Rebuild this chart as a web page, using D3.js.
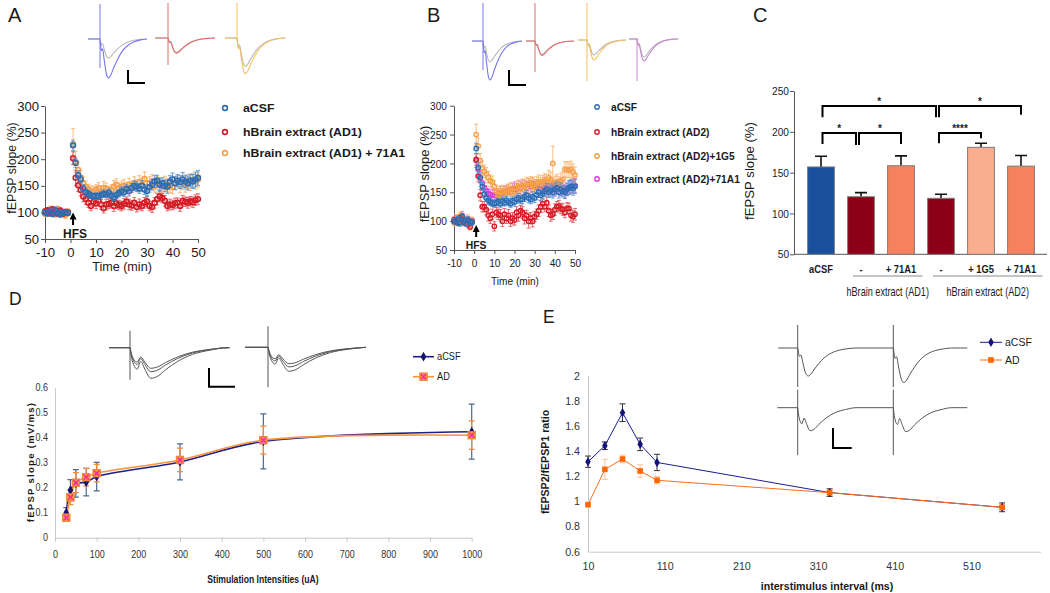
<!DOCTYPE html>
<html><head><meta charset="utf-8">
<script src="https://cdn.jsdelivr.net/npm/d3@7"></script>
<style>body{margin:0;background:#fff}svg{display:block}</style>
</head><body>
<svg id="c" width="1050" height="593"></svg>
<script>
// ================= DATA =================
const minutes = [-10,-9,-8,-7,-6,-5,-4,-3,-2,-1,1,2,3,4,5,6,7,8,9,10,11,12,13,14,15,16,17,18,19,20,21,22,23,24,25,26,27,28,29,30,31,32,33,34,35,36,37,38,39,40,41,42,43,44,45,46,47,48,49,50];
const tsYTicks = [50,100,150,200,250,300];
const tsXTicks = [-10,0,10,20,30,40,50];

// Panel A
const aNames = ['aCSF','hBrain extract (AD1)','hBrain extract (AD1) + 71A1'];
const aACSF = [100,98,102,97,104,99,96,101,100,99, 226,193,170,162,145,138,135,132,130,131, 130,133,135,134,137,132,128,133,136,140, 138,144,140,146,150,148,145,150,143,140, 148,152,158,160,152,155,150,148,158,162, 155,160,157,162,158,155,160,158,162,165];
const aACSFerr = [4,5,4,5,6,4,5,4,3,4, 10,9,8,7,7,6,6,6,5,6, 6,6,7,6,7,6,6,7,7,8, 8,8,9,8,9,9,9,10,9,10, 10,10,11,10,11,10,11,12,11,12, 12,11,12,13,12,13,12,13,14,14];
const aAD1 = [102,104,99,106,100,98,103,97,101,100, 202,165,151,142,130,125,118,112,120,117, 122,115,108,115,116,118,112,117,114,112, 116,120,115,113,118,110,115,112,118,121, 112,110,118,125,130,127,122,112,115,114, 117,118,112,122,120,118,121,119,123,125];
const aAD1err = [5,4,6,5,4,5,6,4,5,4, 12,14,12,11,10,10,9,9,9,10, 10,9,9,10,9,9,10,10,9,9, 10,9,10,9,10,9,10,9,10,10, 9,10,10,11,10,9,10,9,10,9, 10,9,10,10,9,10,9,10,10,10];
const aAD1mab = [98,103,105,100,97,106,102,99,95,101, 228,195,180,165,155,148,143,140,138,142, 145,140,146,145,138,142,148,152,145,148, 150,146,152,148,155,150,157,152,163,148, 155,158,150,155,152,148,155,152,150,148, 155,158,150,156,152,158,155,160,158,162];
const aAD1maberr = [6,5,7,5,6,6,5,6,7,6, 30,20,15,14,12,11,10,10,11,10, 11,10,12,10,11,10,12,11,10,11, 12,11,12,11,12,11,12,12,13,12, 12,13,12,12,13,12,13,12,13,13, 13,12,13,13,14,13,14,13,14,14];

// Panel B
const bNames = ['aCSF','hBrain extract (AD2)','hBrain extract (AD2)+1G5','hBrain extract (AD2)+71A1'];
const bACSF = [100,98,103,97,108,100,96,102,99,98, 226,193,175,160,147,140,136,133,131,130, 132,134,130,135,132,136,133,130,135,133, 138,140,137,138,142,145,140,138,142,140, 146,150,145,148,152,155,150,153,150,155, 158,150,155,152,150,155,158,160,157,160];
const bACSFerr = [5,4,5,6,5,4,5,6,4,5, 9,8,8,7,7,6,6,6,6,6, 6,6,6,7,6,7,6,6,7,7, 7,8,7,8,8,8,8,8,9,8, 9,9,9,10,9,10,9,10,10,10, 10,10,11,10,11,11,12,11,12,12];
const bAD2 = [102,100,97,106,103,98,101,95,90,99, 207,178,145,125,125,120,110,105,112,91, 115,112,110,100,112,105,110,100,105,102, 115,110,118,115,105,110,100,105,100,108, 112,118,125,130,125,132,118,110,112,120, 125,126,122,120,115,122,122,110,108,112];
const bAD2err = [5,6,5,4,6,5,5,6,5,5, 10,10,10,9,9,9,10,9,9,8, 9,9,10,9,10,9,10,9,10,9, 10,10,9,10,10,9,12,10,10,9, 9,10,10,10,9,10,10,10,9,10, 9,10,9,10,9,10,9,10,10,10];
const bAD2g5 = [98,104,100,108,102,97,100,104,96,101, 250,230,205,192,186,182,176,170,168,160, 152,146,150,152,148,150,154,156,150,152, 158,160,156,162,160,165,162,166,163,160, 165,168,164,166,170,168,175,172,200,166, 168,165,170,172,190,189,188,190,185,180];
const bAD2g5err = [6,7,6,7,6,5,6,7,6,6, 18,14,12,12,11,11,10,10,10,10, 10,10,11,10,10,11,10,11,11,10, 11,11,12,11,12,11,12,11,12,12, 12,12,12,13,12,13,13,13,30,12, 13,12,13,13,13,14,13,14,14,14];
const bAD2mab = [100,105,98,102,110,97,103,100,98,101, 205,190,176,166,158,152,148,146,145,146, 144,148,150,147,150,152,155,150,155,158, 155,160,158,162,160,158,164,160,165,162, 160,158,162,160,165,160,158,162,158,155, 158,160,155,158,152,155,158,160,162,162];
const bAD2maberr = [5,6,5,6,7,5,6,5,6,5, 12,11,10,10,9,9,9,9,9,9, 9,9,10,9,10,10,9,10,10,10, 10,10,11,10,10,11,10,11,11,10, 11,11,10,11,11,12,11,11,12,12, 11,12,11,12,12,11,12,12,12,12];

// Panel C
const cLabels = ['aCSF','-','+ 71A1','-','+ 1G5','+ 71A1'];
const cValues = [157,120.5,158.5,118.6,181,158];
const cErrors = [13,5,12,5,5,13];
const cYTicks = [50,100,150,200,250];
const cGroups = [{label:'hBrain extract (AD1)',from:1,to:2},{label:'hBrain extract (AD2)',from:3,to:5}];
const cSig = [
  {a:0,b:3,top:231.5,legA:218,legB:218,label:'*'},
  {a:3,b:5,top:231.5,legA:218,legB:221,label:'*'},
  {a:0,b:1,top:198.5,legA:185,legB:184,label:'*'},
  {a:1,b:2,top:198.5,legA:184,legB:185,label:'*'},
  {a:3,b:4,top:198.5,legA:186,legB:192,label:'****'}
];

// Panel D
const dNames = ['aCSF','AD'];
const dStim = [27,37,50,75,100,300,500,1000];
const dACSF = [0.10,0.19,0.217,0.222,0.244,0.303,0.385,0.424];
const dACSFerr = [0.02,0.042,0.055,0.055,0.057,0.072,0.11,0.11];
const dAD = [0.08,0.162,0.22,0.242,0.258,0.311,0.39,0.41];
const dADerr = [0.012,0.03,0.04,0.035,0.035,0.047,0.056,0.057];
const dYTicks = [0,0.1,0.2,0.3,0.4,0.5,0.6];
const dXTicks = [0,100,200,300,400,500,600,700,800,900,1000];

// Panel E
const eNames = ['aCSF','AD'];
const eISI = [10,32,55,78,100,325,550];
const eACSF = [1.316,1.443,1.706,1.454,1.31,1.07,0.953];
const eACSFerr = [0.045,0.03,0.07,0.05,0.065,0.03,0.035];
const eAD = [0.974,1.255,1.337,1.242,1.168,1.07,0.953];
const eADerr = [0.0,0.08,0.03,0.05,0.03,0.02,0.02];
const eYTicks = [0.6,0.8,1,1.2,1.4,1.6,1.8,2];
const eXTicks = [10,110,210,310,410,510];

// Example traces (time in ms relative to stimulus, amplitude in mV)
const tplA = {t:[0.3,1,1.8,3,4.5,6,7.5,9.5,12,15,19,24,29,33], v:[-0.1,-0.3,-0.25,-0.55,-0.9,-1,-0.93,-0.75,-0.55,-0.35,-0.18,-0.07,-0.02,0]};
const tplB = {t:[0.3,1.2,2.4,3.6,5,7,9,12,16,21,27,33], v:[-0.2,-0.55,-0.7,-0.45,-0.7,-1,-0.95,-0.72,-0.45,-0.22,-0.08,0]};

// ================= DRAW =================
const FONT = '"Liberation Sans", Arial, Helvetica, sans-serif';
const svg = d3.select('#c');
const plain = d => String(d);

function txt(parent, x, y, s, o = {}) {
  let tr = `translate(${x},${y})`;
  if (o.rot) tr += ` rotate(${o.rot})`;
  if (o.sx && o.sx !== 1) tr += ` scale(${o.sx},1)`;
  const t = parent.append('text').attr('transform', tr).text(s)
    .attr('font-family', FONT).attr('font-size', o.size || 12)
    .attr('text-anchor', o.anchor || 'start')
    .attr('font-weight', o.bold ? 'bold' : 'normal')
    .attr('fill', o.fill || '#1a1a1a');
  if (o.mid) t.attr('dominant-baseline', 'central');
  if (o.ls) t.attr('letter-spacing', o.ls);
  return t;
}
function styleAxis(g, o) {
  g.attr('font-family', FONT).attr('font-size', o.size);
  g.select('.domain').attr('stroke', o.color).attr('stroke-width', o.sw || 1);
  g.selectAll('.tick line').attr('stroke', o.color).attr('stroke-width', o.sw || 1);
  g.selectAll('.tick text').attr('fill', o.tcol || '#1a1a1a').attr('font-weight', o.bold ? 'bold' : null);
  if (o.sx && o.sx !== 1) g.selectAll('.tick text').each(function () {
    const t = d3.select(this); const x = +(t.attr('x') || 0);
    t.attr('x', x / o.sx).attr('transform', `scale(${o.sx},1)`);
  });
}
function errPath(cx, y1, y2, w) {
  return `M${cx},${y1}V${y2}M${cx - w},${y1}H${cx + w}M${cx - w},${y2}H${cx + w}`;
}
function drawTS(g, x, y, vals, errs, col, ecol, r, sw) {
  g.append('g').selectAll('path').data(vals).join('path')
    .attr('d', (v, i) => errPath(x(minutes[i]), y(v + errs[i]), y(v - errs[i]), 2))
    .attr('stroke', ecol).attr('stroke-width', 1).attr('fill', 'none').attr('opacity', 0.85);
  g.append('g').selectAll('circle').data(vals).join('circle')
    .attr('cx', (v, i) => x(minutes[i])).attr('cy', v => y(v)).attr('r', r)
    .attr('fill', 'none').attr('stroke', col).attr('stroke-width', sw);
}
function arrow(g, x, tail, tip) {
  g.append('line').attr('x1', x).attr('x2', x).attr('y1', tail).attr('y2', tip + 5).attr('stroke', '#000').attr('stroke-width', 2);
  g.append('path').attr('d', `M${x - 3.5},${tip + 7}L${x},${tip}L${x + 3.5},${tip + 7}Z`).attr('fill', '#000');
}
function scaleBar(g, x, y0, y1, x1) {
  g.append('path').attr('d', `M${x},${y0}V${y1}H${x1}`).attr('fill', 'none').attr('stroke', '#000').attr('stroke-width', 2);
}
function drawTrace(g, L, sweep) {
  const x = d3.scaleLinear().domain([0, 1]).range([L.sx, L.sx + L.ms]);
  const y = d3.scaleLinear().domain([0, 1]).range([L.by, L.by - L.mv]);
  const line = d3.line().x(d => x(d[0])).y(d => y(d[1])).curve(d3.curveMonotoneX);
  const tpl = sweep.tpl === 'B' ? tplB : tplA;
  g.append('line').attr('x1', x(0)).attr('x2', x(0)).attr('y1', y(sweep.up)).attr('y2', y(-sweep.down))
    .attr('stroke', sweep.spikeCol || sweep.lines[sweep.lines.length - 1][0]).attr('stroke-width', 1);
  sweep.lines.forEach(([col, dip]) => {
    const pts = [[-sweep.pre, 0], [0, 0]];
    tpl.t.forEach((t, i) => pts.push([t, tpl.v[i] * dip]));
    if (sweep.post > 33) pts.push([sweep.post, 0]);
    g.append('path').attr('d', line(pts)).attr('fill', 'none').attr('stroke', col).attr('stroke-width', sweep.w || 1.1);
  });
}

const GRAY = '#b8b8b8';
const tBlue = '#7676f0', tRed = '#e06c6c', tOrange = '#f5c160', tMag = '#c888cf';

// ---------- Panel A ----------
{
  const g = svg.append('g');
  txt(g, 8, 22, 'A', {size: 20});
  const x = d3.scaleLinear().domain([-10, 50]).range([45, 198]);
  const y = d3.scaleLinear().domain([50, 300]).range([239, 106]);
  const ay = g.append('g').attr('transform', `translate(${x.range()[0]},0)`)
    .call(d3.axisLeft(y).tickValues(tsYTicks).tickFormat(plain).tickSize(4).tickPadding(2).tickSizeOuter(0));
  styleAxis(ay, {size: 12.5, color: '#555', sx: 1.05});
  const ax = g.append('g').attr('transform', `translate(0,${y.range()[0]})`)
    .call(d3.axisBottom(x).tickValues(tsXTicks).tickFormat(plain).tickSize(4).tickPadding(5).tickSizeOuter(0));
  styleAxis(ax, {size: 12.5, color: '#555', sx: 1.05});
  txt(g, 12, 168, 'fEPSP slope (%)', {size: 12.3, rot: -90, anchor: 'middle', mid: true});
  txt(g, 122, 267, 'Time (min)', {size: 12, anchor: 'middle', mid: true, sx: 1.05});
  drawTS(g, x, y, aAD1mab, aAD1maberr, '#f6a04d', '#f8b26a', 2.4, 1.6);
  drawTS(g, x, y, aAD1, aAD1err, '#d41c25', '#e0525a', 2.4, 1.6);
  drawTS(g, x, y, aACSF, aACSFerr, '#2c6db3', '#4d8fd0', 2.4, 1.6);
  arrow(g, x(1), 225, 212.5);
  txt(g, 75, 234, 'HFS', {size: 12, bold: true, anchor: 'middle', mid: true});
  const cols = ['#2c6db3', '#d41c25', '#f6a04d'];
  aNames.forEach((n, i) => {
    const yy = [108, 132, 153][i];
    g.append('circle').attr('cx', 225).attr('cy', yy).attr('r', 2.4).attr('fill', 'none').attr('stroke', cols[i]).attr('stroke-width', 1.6);
    txt(g, 243, yy, n, {size: 11.5, bold: true, mid: true, sx: 1.07});
  });
  const L = (sx, by) => ({sx, by, ms: 1.42, mv: 20});
  drawTrace(g, L(100, 39), {pre: 8.5, post: 33, up: 1.75, down: 1.45, lines: [[GRAY, 0.95], [tBlue, 1.95]]});
  drawTrace(g, L(168, 38), {pre: 9, post: 33, up: 1.75, down: 1.35, lines: [[GRAY, 0.72], [tRed, 0.76]]});
  drawTrace(g, L(237, 38), {pre: 8.5, post: 34, up: 1.75, down: 0.15, lines: [[GRAY, 1.42], [tOrange, 1.78]]});
  scaleBar(g, 128, 70, 83, 145);
}

// ---------- Panel B ----------
{
  const g = svg.append('g');
  txt(g, 427, 22, 'B', {size: 20});
  const x = d3.scaleLinear().domain([-10, 50]).range([454, 575]);
  const y = d3.scaleLinear().domain([50, 300]).range([250, 105.7]);
  const ay = g.append('g').attr('transform', `translate(${x.range()[0]},0)`)
    .call(d3.axisLeft(y).tickValues(tsYTicks).tickFormat(plain).tickSize(4).tickPadding(3).tickSizeOuter(0));
  styleAxis(ay, {size: 11.5, color: '#555', sx: 0.88});
  const ax = g.append('g').attr('transform', `translate(0,${y.range()[0]})`)
    .call(d3.axisBottom(x).tickValues(tsXTicks).tickFormat(plain).tickSize(4).tickPadding(5).tickSizeOuter(0));
  styleAxis(ax, {size: 11.5, color: '#555', sx: 0.88});
  txt(g, 424, 174, 'fEPSP slope (%)', {size: 13, rot: -90, anchor: 'middle', mid: true, sx: 1.0});
  txt(g, 515, 281, 'Time (min)', {size: 11.5, anchor: 'middle', mid: true, sx: 0.88});
  drawTS(g, x, y, bAD2mab, bAD2maberr, '#d83bd8', '#e070e0', 2.2, 1.4);
  drawTS(g, x, y, bAD2g5, bAD2g5err, '#f6a04d', '#f8b26a', 2.2, 1.4);
  drawTS(g, x, y, bAD2, bAD2err, '#d41c25', '#e0525a', 2.2, 1.4);
  drawTS(g, x, y, bACSF, bACSFerr, '#2c6db3', '#4d8fd0', 2.2, 1.4);
  arrow(g, x(1), 237, 225);
  txt(g, 476, 245, 'HFS', {size: 11.5, bold: true, anchor: 'middle', mid: true, sx: 0.9});
  const cols = ['#2c6db3', '#d41c25', '#f6a04d', '#d83bd8'];
  bNames.forEach((n, i) => {
    const yy = [107, 132, 156, 179][i];
    g.append('circle').attr('cx', 597).attr('cy', yy).attr('r', 2.2).attr('fill', 'none').attr('stroke', cols[i]).attr('stroke-width', 1.4);
    txt(g, 611, yy, n, {size: 10.2, bold: true, mid: true});
  });
  const L = (sx, by) => ({sx, by, ms: 1.18, mv: 20});
  drawTrace(g, L(483, 41), {pre: 9.3, post: 33, up: 1.9, down: 1.45, lines: [[GRAY, 1.05], [tBlue, 1.95]]});
  drawTrace(g, L(535, 41), {pre: 7.6, post: 33, up: 1.9, down: 1.55, lines: [[GRAY, 0.68], [tRed, 0.72]]});
  drawTrace(g, L(587, 40), {pre: 7.6, post: 32, up: 1.85, down: 2.05, lines: [[GRAY, 0.75], [tOrange, 1.0]]});
  drawTrace(g, L(637, 39), {pre: 6.8, post: 35, up: 0.05, down: 2.1, lines: [[GRAY, 0.9], [tMag, 1.1]]});
  scaleBar(g, 509, 70, 85, 526);
}

// ---------- Panel C ----------
{
  const g = svg.append('g');
  txt(g, 753, 22, 'C', {size: 20});
  const x = d3.scaleBand().domain(d3.range(cLabels.length)).range([801, 1041]).paddingInner(0.33).paddingOuter(0.165);
  const y = d3.scaleLinear().domain([50, 250]).range([254.3, 91]);
  const bw = x.bandwidth();
  const cx = i => x(i) + bw / 2;
  const colors = ['#1a4f9b', '#8c0016', '#f5815f', '#8c0016', '#f9ae8f', '#f5815f'];
  const ay = g.append('g').attr('transform', 'translate(794,0)')
    .call(d3.axisLeft(y).tickValues(cYTicks).tickFormat(plain).tickSize(4).tickPadding(1).tickSizeOuter(0));
  styleAxis(ay, {size: 11.5, color: '#555', sx: 0.88});
  g.append('line').attr('x1', 794).attr('x2', 1047).attr('y1', y(50)).attr('y2', y(50)).attr('stroke', '#555');
  txt(g, 749, 171, 'fEPSP slope (%)', {size: 13.2, rot: -90, anchor: 'middle', mid: true});
  g.append('g').selectAll('path').data(cValues).join('path')
    .attr('d', (v, i) => `M${cx(i)},${y(v)}V${y(v + cErrors[i])}M${cx(i) - 6},${y(v + cErrors[i])}H${cx(i) + 6}`)
    .attr('stroke', '#111').attr('stroke-width', 1.6).attr('fill', 'none');
  g.append('g').selectAll('rect').data(cValues).join('rect')
    .attr('x', (v, i) => x(i)).attr('width', bw).attr('y', v => y(v)).attr('height', v => y(50) - y(v))
    .attr('fill', (v, i) => colors[i]).attr('stroke', '#7d7d7d').attr('stroke-width', 1);
  cLabels.forEach((l, i) => txt(g, cx(i), 269, l, {size: 11, bold: true, anchor: 'middle', mid: true, sx: 0.85}));
  cGroups.forEach(gr => {
    const x0 = x(gr.from) + 0.2 * bw, x1 = x(gr.to) + bw * 1.3;
    g.append('line').attr('x1', x0).attr('x2', x1).attr('y1', 276).attr('y2', 276).attr('stroke', '#8a8a8a').attr('stroke-width', 1);
    txt(g, (x0 + x1) / 2, 291, gr.label, {size: 12, anchor: 'middle', mid: true, sx: 0.76});
  });
  cSig.forEach(s => {
    const shared = cSig.some(o => o !== s && o.a === s.b && o.top === s.top);
    const xl = cx(s.a) + (s.a === 0 ? 1.5 : -2);
    const xr = cx(s.b) - (shared ? 5 : 0);
    g.append('path').attr('d', `M${xl},${y(s.legA)}V${y(s.top)}H${xr}V${y(s.legB)}`)
      .attr('fill', 'none').attr('stroke', '#000').attr('stroke-width', 2);
    txt(g, (xl + xr) / 2, y(s.top) - 4.5, s.label, {size: 10, bold: true, anchor: 'middle', mid: true});
  });
}

// ---------- Panel D ----------
{
  const g = svg.append('g');
  txt(g, 9, 305, 'D', {size: 17.5});
  const x = d3.scaleLinear().domain([0, 1000]).range([55, 471.7]);
  const y = d3.scaleLinear().domain([0, 0.6]).range([537.7, 387.7]);
  const ay = g.append('g').attr('transform', 'translate(55,0)')
    .call(d3.axisLeft(y).tickValues(dYTicks).tickSize(0).tickPadding(7).tickFormat(d => d === 0 ? '0' : d.toFixed(1)));
  styleAxis(ay, {size: 10, color: '#c8c8c8', tcol: '#333', sx: 0.9});
  const ax = g.append('g').attr('transform', `translate(0,${y(0)})`)
    .call(d3.axisBottom(x).tickValues(dXTicks).tickFormat(plain).tickSize(4).tickPadding(9).tickSizeOuter(0));
  styleAxis(ax, {size: 10, color: '#c8c8c8', tcol: '#333', sx: 0.9});
  txt(g, 263, 579, 'Stimulation Intensities (uA)', {size: 10.5, bold: true, anchor: 'middle', mid: true, sx: 0.82});
  txt(g, 30, 462, 'fEPSP slope (mV/ms)', {size: 9.5, bold: true, rot: -90, anchor: 'middle', mid: true, ls: 1.3});
  const line = d3.line().x((d, i) => x(dStim[i])).y(d => y(d)).curve(d3.curveCatmullRom.alpha(0.5));
  g.append('g').selectAll('path').data(dACSF).join('path')
    .attr('d', (v, i) => errPath(x(dStim[i]), y(v + dACSFerr[i]), y(v - dACSFerr[i]), 3))
    .attr('stroke', '#4b6a8f').attr('stroke-width', 1.2).attr('fill', 'none');
  g.append('path').attr('d', line(dACSF)).attr('fill', 'none').attr('stroke', '#1f1f8a').attr('stroke-width', 1.6);
  g.append('g').selectAll('path').data(dAD).join('path')
    .attr('d', (v, i) => errPath(x(dStim[i]), y(v + dADerr[i]), y(v - dADerr[i]), 3))
    .attr('stroke', '#f58a3e').attr('stroke-width', 1.2).attr('fill', 'none');
  g.append('path').attr('d', line(dAD)).attr('fill', 'none').attr('stroke', '#f7923e').attr('stroke-width', 1.6);
  const diamond = d3.symbol(d3.symbolDiamond, 28);
  g.append('g').selectAll('path').data(dACSF).join('path')
    .attr('transform', (v, i) => `translate(${x(dStim[i])},${y(v)})`).attr('d', diamond).attr('fill', '#14146e');
  const adMark = (sel) => {
    sel.append('rect').attr('x', -3.8).attr('y', -3.8).attr('width', 7.6).attr('height', 7.6).attr('fill', '#f7923e').attr('stroke', '#f07b2a').attr('stroke-width', 0.8);
    sel.append('path').attr('d', 'M-2.5,-2.5L2.5,2.5M-2.5,2.5L2.5,-2.5').attr('stroke', '#ff1fb4').attr('stroke-width', 1.3);
  };
  g.append('g').selectAll('g').data(dAD).join('g')
    .attr('transform', (v, i) => `translate(${x(dStim[i])},${y(v)})`).call(adMark);
  g.append('line').attr('x1', 413).attr('x2', 434).attr('y1', 356.7).attr('y2', 356.7).attr('stroke', '#1f1f8a').attr('stroke-width', 1.6);
  g.append('path').attr('transform', 'translate(423.5,356.7)').attr('d', diamond).attr('fill', '#14146e');
  g.append('line').attr('x1', 413).attr('x2', 434).attr('y1', 376.7).attr('y2', 376.7).attr('stroke', '#f7923e').attr('stroke-width', 1.6);
  g.append('g').attr('transform', 'translate(423.5,376.7)').call(adMark);
  txt(g, 437, 356.7, dNames[0], {size: 10.5, mid: true, sx: 0.88});
  txt(g, 437, 376.7, dNames[1], {size: 10.5, mid: true, sx: 0.88});
  const L = (sx, by) => ({sx, by, ms: 2.97, mv: 20});
  drawTrace(g, L(130, 347.7), {pre: 7, post: 33.5, up: 0.85, down: 1.6, tpl: 'B', w: 1, lines: [['#555', 1.03], ['#555', 1.2], ['#555', 1.53]]});
  drawTrace(g, L(268, 347.3), {pre: 7.7, post: 33, up: 1.05, down: 2.0, tpl: 'B', w: 1, lines: [['#555', 0.82], ['#555', 0.98], ['#555', 1.2]]});
  scaleBar(g, 209, 368, 386.7, 235);
}

// ---------- Panel E ----------
{
  const g = svg.append('g');
  txt(g, 543, 323, 'E', {size: 17.5});
  const x = d3.scaleLinear().domain([10, 600]).range([588, 1040.5]);
  const y = d3.scaleLinear().domain([0.6, 2]).range([551.7, 375.7]);
  const ay = g.append('g').attr('transform', 'translate(588,0)')
    .call(d3.axisLeft(y).tickValues(eYTicks).tickSize(0).tickPadding(8).tickFormat(d => String(+d.toFixed(1))));
  styleAxis(ay, {size: 10.7, color: '#c8c8c8', tcol: '#333'});
  const ax = g.append('g').attr('transform', `translate(0,${y(0.6)})`)
    .call(d3.axisBottom(x).tickValues(eXTicks).tickFormat(plain).tickSize(0).tickPadding(11).tickSizeOuter(0));
  styleAxis(ax, {size: 10.7, color: '#c8c8c8', tcol: '#333'});
  txt(g, 827, 586, 'interstimulus interval (ms)', {size: 10.6, bold: true, anchor: 'middle', mid: true});
  txt(g, 545, 462, 'fEPSP2/fEPSP1 ratio', {size: 10.6, bold: true, rot: -90, anchor: 'middle', mid: true});
  const line = d3.line().x((d, i) => x(eISI[i])).y(d => y(d));
  g.append('g').selectAll('path').data(eAD).join('path')
    .attr('d', (v, i) => errPath(x(eISI[i]), y(v + eADerr[i]), y(v - eADerr[i]), 3))
    .attr('stroke', '#fcc49c').attr('stroke-width', 1).attr('fill', 'none');
  g.append('g').selectAll('path').data(eACSF).join('path')
    .attr('d', (v, i) => errPath(x(eISI[i]), y(v + eACSFerr[i]), y(v - eACSFerr[i]), 3))
    .attr('stroke', '#333').attr('stroke-width', 1).attr('fill', 'none');
  g.append('path').attr('d', line(eACSF)).attr('fill', 'none').attr('stroke', '#1c1c8e').attr('stroke-width', 1);
  g.append('path').attr('d', line(eAD)).attr('fill', 'none').attr('stroke', '#ff6d1a').attr('stroke-width', 1);
  const diamond = d3.symbol(d3.symbolDiamond, 26);
  g.append('g').selectAll('path').data(eACSF).join('path')
    .attr('transform', (v, i) => `translate(${x(eISI[i])},${y(v)})`).attr('d', diamond).attr('fill', '#12127a');
  g.append('g').selectAll('rect').data(eAD).join('rect')
    .attr('x', (v, i) => x(eISI[i]) - 2.8).attr('y', v => y(v) - 2.8).attr('width', 5.6).attr('height', 5.6).attr('fill', '#ff6600');
  g.append('line').attr('x1', 980).attr('x2', 1002).attr('y1', 342.3).attr('y2', 342.3).attr('stroke', '#1c1c8e');
  g.append('path').attr('transform', 'translate(991,342.3)').attr('d', diamond).attr('fill', '#12127a');
  g.append('line').attr('x1', 980).attr('x2', 1002).attr('y1', 360).attr('y2', 360).attr('stroke', '#ff6d1a');
  g.append('rect').attr('x', 988.2).attr('y', 357.2).attr('width', 5.6).attr('height', 5.6).attr('fill', '#ff6600');
  txt(g, 1005, 342.3, eNames[0], {size: 10.5, mid: true});
  txt(g, 1005, 360, eNames[1], {size: 10.5, mid: true});
  const L = (sx, by) => ({sx, by, ms: 1.77, mv: 20});
  drawTrace(g, L(797.7, 348), {pre: 11, post: 54, up: 1.15, down: 1.95, w: 1, lines: [['#555', 1.4]]});
  drawTrace(g, L(893.3, 348), {pre: 0.01, post: 41.8, up: 1.15, down: 1.95, w: 1, lines: [['#555', 1.73]]});
  drawTrace(g, L(797.7, 407.7), {pre: 11.5, post: 54, up: 0.9, down: 2.37, tpl: 'B', w: 1, lines: [['#555', 1.15]]});
  drawTrace(g, L(893.3, 407.7), {pre: 0.01, post: 41.8, up: 0.9, down: 2.37, tpl: 'B', w: 1, lines: [['#555', 1.2]]});
  scaleBar(g, 833, 428, 448, 851.7);
}
</script>
</body></html>
